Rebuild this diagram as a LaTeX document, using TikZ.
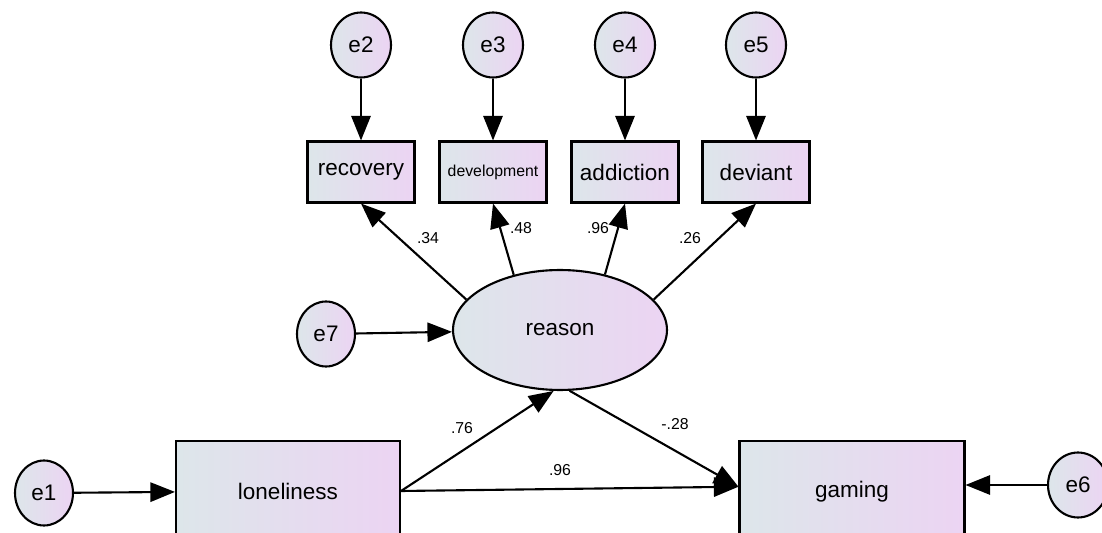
\documentclass[tikz,border=0pt]{standalone}
\usepackage{fontspec}
\setmainfont{Liberation Sans}
\definecolor{semleft}{HTML}{DDE6EA}
\definecolor{semright}{HTML}{ECD4F3}
\usetikzlibrary{arrows.meta,shapes.geometric}

\begin{document}
\begin{tikzpicture}[x=0.02cm,y=-0.02cm,
  obs/.style={draw,line width=1.2pt,rectangle,left color=semleft,right color=semright,
    font=\fontsize{12.8}{15}\selectfont,inner sep=0pt},
  lat/.style={draw,line width=1.2pt,ellipse,left color=semleft,right color=semright,
    font=\fontsize{12.8}{15}\selectfont,inner sep=0pt},
  err/.style={lat,minimum width=1.2cm,minimum height=1.3cm},
  lbl/.style={font=\fontsize{9}{11}\selectfont,inner sep=0pt},
  arr/.style={-{Triangle[length=14pt,width=11pt]},line width=1.2pt}]
  \useasboundingbox (0,0) rectangle (1102,533);
  \clip (0,0) rectangle (1102,533);
  % indicators of reason
  \node[obs,minimum width=2.14cm,minimum height=1.22cm] (recovery) at (361,172) {recovery};
  \node[obs,minimum width=2.14cm,minimum height=1.22cm,font=\fontsize{9}{11}\selectfont]
    (development) at (493,172) {development};
  \node[obs,minimum width=2.14cm,minimum height=1.22cm] (addiction) at (625,172) {addiction};
  \node[obs,minimum width=2.14cm,minimum height=1.22cm] (deviant) at (756,172) {deviant};
  \node[err] (e2) at (361,45) {e2};
  \node[err] (e3) at (493,45) {e3};
  \node[err] (e4) at (625,45) {e4};
  \node[err] (e5) at (756,45) {e5};
  % structural part
  \node[lat,minimum width=4.28cm,minimum height=2.4cm] (reason) at (560,330) {reason};
  \node[err,minimum width=1.16cm] (e7) at (326,334) {e7};
  \node[obs,minimum width=4.48cm,minimum height=2cm] (loneliness) at (288,491) {loneliness};
  \node[obs,minimum width=4.5cm,minimum height=2.04cm] (gaming) at (852,492) {gaming};
  \node[err,minimum width=1.16cm] (e1) at (44,493) {e1};
  \node[err] (e6) at (1078,485) {e6};
  \draw[arr] (e2) -- (recovery);
  \draw[arr] (e3) -- (development);
  \draw[arr] (e4) -- (addiction);
  \draw[arr] (e5) -- (deviant);
  \draw[arr] (reason.162) -- (recovery.south);
  \draw[arr] (reason.130) -- (development.south);
  \draw[arr] (reason.51) -- (addiction.south);
  \draw[arr] (reason.18) -- (deviant.south);
  \draw[arr] (e7) -- (reason);
  \draw[arr] (e1) -- (loneliness);
  \draw[arr] (loneliness.east) -- (reason.264);
  \draw[arr] (loneliness.east) -- ([yshift=3pt]gaming.west);
  \draw[arr] (reason.-81) -- ([yshift=3pt]gaming.west);
  \draw[arr] (e6) -- (e6 -| gaming.east);
  % loadings and paths
  \node[lbl] (w34) at (428,238) {.34};
  \node[lbl] (w48) at (521,228) {.48};
  \node[lbl] (w96a) at (598,228) {.96};
  \node[lbl] (w26) at (690,238) {.26};
  \node[lbl] (w76) at (462,428) {.76};
  \node[lbl] (w28) at (675,424) {-.28};
  \node[lbl] (w96b) at (560,470) {.96};
\end{tikzpicture}
\end{document}
